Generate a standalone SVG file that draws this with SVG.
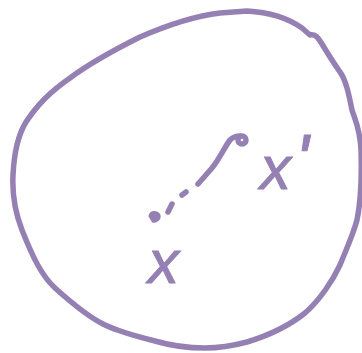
<svg xmlns="http://www.w3.org/2000/svg" width="362" height="353" viewBox="0 0 362 353">
<style>
.s{fill:none;stroke:#9580b4;stroke-width:5.5;stroke-linecap:round;stroke-linejoin:round}
.t{fill:#9580b4;stroke:#9580b4;stroke-width:1;stroke-linejoin:round;font-family:"Liberation Sans",Arial,sans-serif;font-style:italic;font-size:62px}
</style>
<rect width="362" height="353" fill="#fff"/>
<g id="region">
<path class="s" d="M247,11 C265,12 285,16 302,28 L310,35 C316,34 318,38 322,44 C328,54 333,62 340,72 C346,80 349,95 352,110 C355,120 360,128 361,150 C362,180 361,200 357,220 C353,235 346,250 340,265 C333,280 320,300 305,313 C290,325 270,335 247,342 C232,346 220,348 205,348 C190,348 172,346 155,341 C135,336 120,332 105,325 C90,318 75,306 55,288 C42,276 33,258 22,230 C15,212 12,195 13,175 C14,155 18,135 26,122 C38,104 50,92 70,78 C90,63 110,52 140,37 C170,24 195,16 220,13 Z"/>
</g>
<g id="path">
<path class="s" d="M198,184 L212,168 C220,158 224,148 230,140 C233,137 236,136 240,136"/>
<path class="s" d="M182,195 L186,192 M168,212 L172,204"/>
<path d="M150,216 C151,211 157,212 159,215 C160,219 156,222 153,221 Z" fill="#9580b4" stroke="#9580b4" stroke-width="3"/>
<circle cx="242" cy="140" r="4" class="s" stroke-width="4"/>
</g>
<g id="labels">
<text class="t" x="260" y="189">x<tspan dx="4" dy="-4" font-size="72">'</tspan></text>
<text class="t" x="148" y="283">x</text>
</g>
</svg>
